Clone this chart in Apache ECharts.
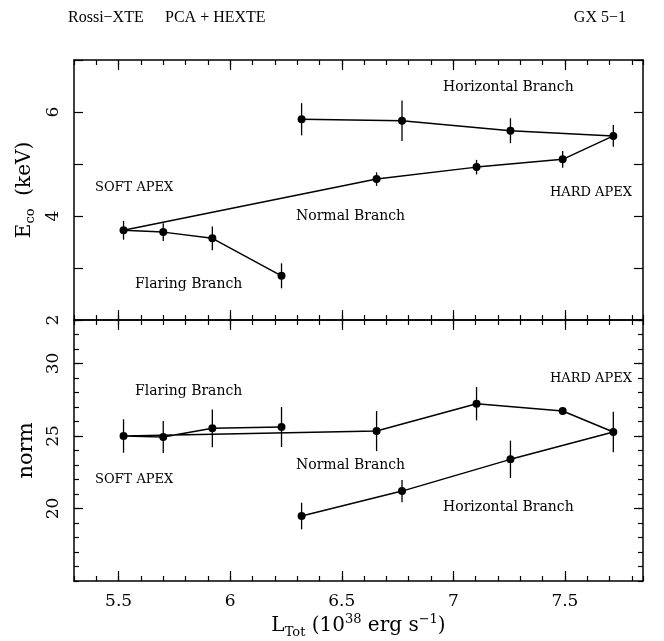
<!DOCTYPE html>
<html>
<head>
<meta charset="utf-8">
<script src="https://cdn.jsdelivr.net/npm/echarts@6/dist/echarts.min.js"></script>
<style>
html,body{margin:0;padding:0;background:#fff;}
#c{width:664px;height:641px;}
</style>
</head>
<body>
<div id="c"></div>
<script>
// ---- data (path order: Horizontal Branch -> hard apex -> Normal Branch -> soft apex -> Flaring Branch)
const lTot    = [6.32, 6.77, 7.256, 7.717, 7.49, 7.104, 6.656, 5.522, 5.70, 5.92, 6.23];
const eco     = [5.86, 5.83, 5.64, 5.54, 5.09, 4.94, 4.71, 3.725, 3.69, 3.57, 2.85];
const ecoErr  = [0.31, 0.39, 0.24, 0.21, 0.16, 0.14, 0.13, 0.18, 0.17, 0.23, 0.24];
const norm    = [19.48, 21.2, 23.39, 25.28, 26.72, 27.23, 25.34, 25.0, 24.93, 25.53, 25.62];
const normErr = [0.92, 0.77, 1.29, 1.4, 0.2, 1.15, 1.38, 1.15, 1.1, 1.3, 1.38];

const xTickLabels = [5.5, 6, 6.5, 7, 7.5];
const ecoTickLabels = [2, 4, 6];
const normTickLabels = [20, 25, 30];

const topNotes = ['Horizontal Branch', 'SOFT APEX', 'Normal Branch', 'HARD APEX', 'Flaring Branch'];
const bottomNotes = ['Flaring Branch', 'HARD APEX', 'Normal Branch', 'SOFT APEX', 'Horizontal Branch'];

// ---- styling / layout
const FAM = 'DejaVu Serif';
const BLACK = '#000';
const G0 = {left: 74, right: 21, top: 60, height: 260};
const G1 = {left: 74, right: 21, top: 320, height: 261};

const chart = echarts.init(document.getElementById('c'), null, {renderer: 'canvas'});

function near(a, b) { return Math.abs(a - b) < 1e-6; }
function inList(v, list) { return list.some(t => near(v, t)); }

function xAxisDef(grid, pos, showLabels) {
  return {
    type: 'value', gridIndex: grid, position: pos, min: 5.3, max: 7.85, interval: 0.1,
    axisLine: {show: true, onZero: false, lineStyle: {color: BLACK, width: 1.5}},
    axisTick: {show: true, inside: true, length: 5, lineStyle: {color: BLACK, width: 1.2}},
    axisLabel: {show: showLabels, margin: 12, color: BLACK, fontFamily: FAM, fontSize: 17,
      formatter: v => inList(v, xTickLabels) ? String(xTickLabels.find(t => near(v, t))) : ''},
    splitLine: {show: false}
  };
}
function xMajorDef(grid, pos) {
  return {
    type: 'value', gridIndex: grid, position: pos, min: 5.3, max: 7.85,
    axisLine: {show: false},
    axisTick: {show: true, inside: true, length: 10, customValues: xTickLabels, lineStyle: {color: BLACK, width: 1.2}},
    axisLabel: {show: false}, splitLine: {show: false}
  };
}

const xName = {
  name: '{n|L}{sub|Tot}{n| (10}{sup|38}{n| erg s}{sup|\u22121}{n|)}',
  nameLocation: 'middle', nameGap: 32,
  nameTextStyle: {
    rich: {
      n: {fontFamily: FAM, fontSize: 20, color: BLACK, lineHeight: 26, verticalAlign: 'middle'},
      sub: {fontFamily: FAM, fontSize: 13, color: BLACK, lineHeight: 12, verticalAlign: 'bottom'},
      sup: {fontFamily: FAM, fontSize: 13, color: BLACK, lineHeight: 12, verticalAlign: 'top'}
    }
  }
};

const xAxes = [
  xAxisDef(0, 'bottom', false),
  xAxisDef(0, 'top', false),
  Object.assign(xAxisDef(1, 'bottom', true), xName),
  xAxisDef(1, 'top', false),
  xMajorDef(0, 'bottom'),
  xMajorDef(0, 'top'),
  xMajorDef(1, 'bottom'),
  xMajorDef(1, 'top')
];

const yAxes = [
  {
    type: 'value', gridIndex: 0, position: 'left', min: 2, max: 7, interval: 1,
    axisLine: {show: true, onZero: false, lineStyle: {color: BLACK, width: 1.5}},
    axisTick: {show: true, inside: true, length: 9, lineStyle: {color: BLACK, width: 1.2}},
    axisLabel: {show: true, rotate: 90, margin: 12, color: BLACK, fontFamily: FAM, fontSize: 17,
      formatter: v => inList(v, ecoTickLabels) ? String(v) : ''},
    splitLine: {show: false},
    name: '{n|E}{sub|co}{n|  (keV)}', nameLocation: 'middle', nameGap: 34, nameRotate: 90,
    nameTextStyle: {
      rich: {
        n: {fontFamily: FAM, fontSize: 20, color: BLACK, lineHeight: 24, verticalAlign: 'middle'},
        sub: {fontFamily: FAM, fontSize: 13, color: BLACK, lineHeight: 12, verticalAlign: 'bottom'}
      }
    }
  },
  {
    type: 'value', gridIndex: 0, position: 'right', min: 2, max: 7, interval: 1,
    axisLine: {show: true, onZero: false, lineStyle: {color: BLACK, width: 1.5}},
    axisTick: {show: true, inside: true, length: 9, lineStyle: {color: BLACK, width: 1.2}},
    axisLabel: {show: false}, splitLine: {show: false}
  },
  {
    type: 'value', gridIndex: 1, position: 'left', min: 15, max: 33, interval: 1,
    axisLine: {show: true, onZero: false, lineStyle: {color: BLACK, width: 1.5}},
    axisTick: {show: true, inside: true, length: 5, lineStyle: {color: BLACK, width: 1.2}},
    axisLabel: {show: true, rotate: 90, margin: 12, color: BLACK, fontFamily: FAM, fontSize: 17,
      formatter: v => inList(v, normTickLabels) ? String(v) : ''},
    splitLine: {show: false},
    name: 'norm', nameLocation: 'middle', nameGap: 37, nameRotate: 90,
    nameTextStyle: {fontFamily: FAM, fontSize: 21, color: BLACK}
  },
  {
    type: 'value', gridIndex: 1, position: 'right', min: 15, max: 33, interval: 1,
    axisLine: {show: true, onZero: false, lineStyle: {color: BLACK, width: 1.5}},
    axisTick: {show: true, inside: true, length: 5, lineStyle: {color: BLACK, width: 1.2}},
    axisLabel: {show: false}, splitLine: {show: false}
  },
  {
    type: 'value', gridIndex: 1, position: 'left', min: 15, max: 33,
    axisLine: {show: false},
    axisTick: {show: true, inside: true, length: 9, customValues: normTickLabels, lineStyle: {color: BLACK, width: 1.2}},
    axisLabel: {show: false}, splitLine: {show: false}
  },
  {
    type: 'value', gridIndex: 1, position: 'right', min: 15, max: 33,
    axisLine: {show: false},
    axisTick: {show: true, inside: true, length: 9, customValues: normTickLabels, lineStyle: {color: BLACK, width: 1.2}},
    axisLabel: {show: false}, splitLine: {show: false}
  }
];

function pairs(xs, ys) { return xs.map((x, i) => [x, ys[i]]); }
function errData(xs, ys, es) { return xs.map((x, i) => [x, ys[i] - es[i], ys[i] + es[i]]); }

function errSeries(xi, yi, data) {
  return {
    type: 'custom', xAxisIndex: xi, yAxisIndex: yi, data: data, silent: true,
    renderItem: function (params, api) {
      const p1 = api.coord([api.value(0), api.value(1)]);
      const p2 = api.coord([api.value(0), api.value(2)]);
      return {type: 'line', shape: {x1: p1[0], y1: p1[1], x2: p2[0], y2: p2[1]},
        style: {stroke: BLACK, lineWidth: 1.3}};
    },
    encode: {x: 0, y: [1, 2]}
  };
}
function lineSeries(xi, yi, data) {
  return {
    type: 'line', xAxisIndex: xi, yAxisIndex: yi, data: data,
    symbol: 'circle', symbolSize: 8, showSymbol: true,
    itemStyle: {color: BLACK}, lineStyle: {color: BLACK, width: 1.5}, silent: true
  };
}

function noteText(txt, left, y) {
  const caps = txt === txt.toUpperCase();
  return {type: 'text', left: left, top: y - (caps ? 6 : 7),
    style: {text: txt, fontFamily: FAM, fontSize: caps ? 13 : 14, fill: BLACK}};
}
const topNotePos = [[443, 87], [95, 187], [296, 216], [550, 192], [135, 284]];
const bottomNotePos = [[135, 391], [550, 378], [296, 465], [95, 479], [443, 507]];

const graphics = [
  {type: 'text', left: 68, top: 10, style: {text: 'Rossi\u2212XTE', fontFamily: 'Liberation Serif', fontSize: 16, fill: BLACK}},
  {type: 'text', left: 165, top: 10, style: {text: 'PCA + HEXTE', fontFamily: 'Liberation Serif', fontSize: 16, fill: BLACK}},
  {type: 'text', right: 38, top: 10, style: {text: 'GX 5\u22121', fontFamily: 'Liberation Serif', fontSize: 16, fill: BLACK}}
];
topNotes.forEach((t, i) => graphics.push(noteText(t, topNotePos[i][0], topNotePos[i][1])));
bottomNotes.forEach((t, i) => graphics.push(noteText(t, bottomNotePos[i][0], bottomNotePos[i][1])));

chart.setOption({
  animation: false,
  backgroundColor: '#fff',
  grid: [G0, G1],
  xAxis: xAxes,
  yAxis: yAxes,
  series: [
    errSeries(0, 0, errData(lTot, eco, ecoErr)),
    lineSeries(0, 0, pairs(lTot, eco)),
    errSeries(2, 2, errData(lTot, norm, normErr)),
    lineSeries(2, 2, pairs(lTot, norm))
  ],
  graphic: graphics
});
</script>
</body>
</html>
